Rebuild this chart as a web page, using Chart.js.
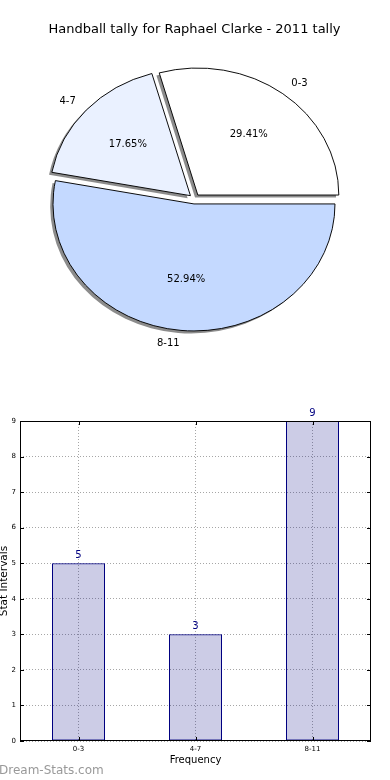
<!DOCTYPE html>
<html>
<head>
<meta charset="utf-8">
<script src="https://cdn.jsdelivr.net/npm/chart.js@4.4.0/dist/chart.umd.min.js"></script>
<style>
html, body { margin: 0; padding: 0; background: #fff; }
body { width: 390px; height: 780px; position: relative; overflow: hidden; }
#pie { position: absolute; left: 0; top: 0; }
#bars { position: absolute; left: 0; top: 390px; }
#mark { position: absolute; left: -1px; top: 763px; font: 12px "DejaVu Sans"; color: #999; }
</style>
</head>
<body>
<canvas id="pie" width="390" height="380"></canvas>
<canvas id="bars" width="390" height="390"></canvas>
<div id="mark">Dream-Stats.com</div>
<script>
// data
const categories = ['0-3', '4-7', '8-11'];
const counts = [5, 3, 9];
const chartTitle = 'Handball tally for Raphael Clarke - 2011 tally';
const xTitle = 'Frequency';
const yTitle = 'Stat Intervals';

const sliceColors = ['#ffffff', '#eaf1ff', '#c4d9ff'];
const FONT = 'DejaVu Sans';
const SY = 127 / 141;     // the pie is squashed, like the original
const EXPLODE = 5.5;

// pie: matplotlib goes counter-clockwise from 3 o'clock, chart.js goes clockwise,
// so feed the slices in reverse and start at 3 o'clock
const pieLabels = categories.slice().reverse();
const pieValues = counts.slice().reverse();
const pieColors = sliceColors.slice().reverse();

function squash(ctx, el) {
  ctx.translate(el.x, el.y);
  ctx.scale(1, SY);
  ctx.translate(-el.x, -el.y);
}

const pieLook = {
  id: 'pieLook',
  afterUpdate(chart) {
    chart.getDatasetMeta(0).data.forEach(el => {
      if (el._exploded) return;
      const draw = el.draw;
      el.draw = function (ctx) {
        const a = (this.startAngle + this.endAngle) / 2;
        ctx.save();
        ctx.translate(Math.cos(a) * EXPLODE, Math.sin(a) * EXPLODE);
        draw.call(this, ctx);
        ctx.restore();
      };
      el._exploded = true;
    });
  },
  beforeDatasetsDraw(chart) {
    const ctx = chart.ctx;
    const arcs = chart.getDatasetMeta(0).data;
    const el = arcs[0];
    ctx.save();
    // shadow pass: same wedges in gray, shifted left and down
    ctx.save();
    ctx.translate(-2.8, 2.5);
    squash(ctx, el);
    ctx.filter = 'blur(0.6px)';
    arcs.forEach(a => {
      const o = a.options;
      const s = Object.create(o);
      s.backgroundColor = 'rgba(0,0,0,0.45)';
      s.borderWidth = 0;
      a.options = s;
      a.draw(ctx);
      a.options = o;
    });
    ctx.restore();
    squash(ctx, el);
  },
  afterDatasetsDraw(chart) {
    const ctx = chart.ctx;
    ctx.restore();
    const meta = chart.getDatasetMeta(0);
    const vals = chart.data.datasets[0].data;
    const total = vals.reduce((a, b) => a + b, 0);
    ctx.save();
    ctx.font = '10px "' + FONT + '"';
    ctx.fillStyle = '#000';
    ctx.textBaseline = 'middle';
    meta.data.forEach((el, i) => {
      const a = (el.startAngle + el.endAngle) / 2;
      const dx = Math.cos(a), dy = Math.sin(a);
      const R = el.outerRadius;
      const pr = EXPLODE + 0.6 * R, lr = EXPLODE + 1.1 * R;
      ctx.textAlign = 'center';
      ctx.fillText((vals[i] / total * 100).toFixed(2) + '%', el.x + pr * dx, el.y + pr * dy * SY);
      ctx.textAlign = dx > 0 ? 'left' : 'right';
      ctx.fillText(chart.data.labels[i], el.x + lr * dx, el.y + lr * dy * SY);
    });
    ctx.restore();
  }
};

new Chart(document.getElementById('pie'), {
  type: 'pie',
  data: {
    labels: pieLabels,
    datasets: [{
      data: pieValues,
      backgroundColor: pieColors,
      borderColor: '#000',
      borderWidth: 1
    }]
  },
  options: {
    responsive: false,
    animation: false,
    rotation: 90,
    radius: 141,
    layout: { padding: { top: 0, left: 0, right: 1, bottom: 19.6 } },
    plugins: {
      legend: { display: false },
      tooltip: { enabled: false },
      title: {
        display: true,
        text: chartTitle,
        color: '#000',
        font: { family: FONT, size: 13, weight: 'normal' },
        padding: { top: 22, bottom: 0 }
      }
    }
  },
  plugins: [pieLook]
});

// bars
const frame = {
  id: 'frame',
  afterDatasetsDraw(chart) {
    const { ctx, chartArea: a, scales } = chart;
    ctx.save();
    ctx.strokeStyle = '#000';
    ctx.lineWidth = 1;
    ctx.strokeRect(Math.round(a.left) + 0.5, Math.round(a.top) + 0.5,
      Math.round(a.right - a.left) - 1, Math.round(a.bottom - a.top) - 1);
    ctx.beginPath();
    scales.y.ticks.forEach((t, i) => {
      const y = Math.round(scales.y.getPixelForTick(i)) + 0.5;
      ctx.moveTo(a.left, y); ctx.lineTo(a.left + 4, y);
      ctx.moveTo(a.right, y); ctx.lineTo(a.right - 4, y);
    });
    scales.x.ticks.forEach((t, i) => {
      const x = Math.round(scales.x.getPixelForTick(i)) + 0.5;
      ctx.moveTo(x, a.bottom); ctx.lineTo(x, a.bottom - 4);
      ctx.moveTo(x, a.top); ctx.lineTo(x, a.top + 4);
    });
    ctx.stroke();

    ctx.font = '10px "' + FONT + '"';
    ctx.fillStyle = '#000080';
    ctx.textAlign = 'center';
    ctx.textBaseline = 'bottom';
    const vals = chart.data.datasets[0].data;
    chart.getDatasetMeta(0).data.forEach((el, i) => {
      ctx.fillText(String(vals[i]), el.x, el.y - 3);
    });
    ctx.restore();
  }
};

const gridLook = { color: 'rgba(0,0,0,0.35)', drawTicks: false };
const tickFont = { family: FONT, size: 7 };

new Chart(document.getElementById('bars'), {
  type: 'bar',
  data: {
    labels: categories,
    datasets: [{
      data: counts,
      backgroundColor: 'rgba(0,0,128,0.2)',
      borderColor: '#000080',
      borderWidth: 1,
      borderSkipped: false,
      categoryPercentage: 1,
      barPercentage: 53 / 117
    }]
  },
  options: {
    responsive: false,
    animation: false,
    layout: { padding: { top: 31, left: 0, right: 19, bottom: 0 } },
    plugins: { legend: { display: false }, tooltip: { enabled: false } },
    scales: {
      x: {
        grid: Object.assign({ offset: false }, gridLook),
        border: { display: false, dash: [1, 2] },
        ticks: { padding: 4, color: '#000', font: tickFont },
        title: { display: true, text: xTitle, color: '#000', font: { family: FONT, size: 10 }, padding: { top: 0, bottom: 14 } },
        afterFit(s) { s.height = 39; }
      },
      y: {
        min: 0,
        max: 9,
        grid: gridLook,
        border: { display: false, dash: [1, 2] },
        ticks: { stepSize: 1, padding: 4, color: '#000', font: tickFont },
        title: { display: true, text: yTitle, color: '#000', font: { family: FONT, size: 10.5 }, padding: { top: -2.5, bottom: 0 } },
        afterFit(s) { s.width = 20; }
      }
    }
  },
  plugins: [frame]
});
</script>
</body>
</html>
